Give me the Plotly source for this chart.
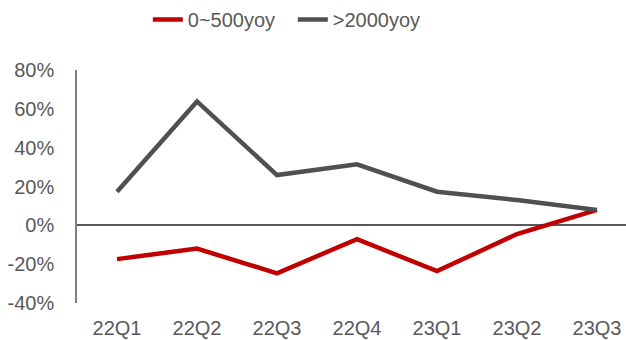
import plotly.graph_objects as go

categories = ["22Q1", "22Q2", "22Q3", "22Q4", "23Q1", "23Q2", "23Q3"]
low_yoy = [-17.4, -12.0, -24.7, -7.1, -23.6, -4.5, 8.0]
high_yoy = [17.3, 63.8, 25.9, 31.4, 17.3, 13.0, 7.9]
series_names = ["0~500yoy", ">2000yoy"]
y_ticks = [-40, -20, 0, 20, 40, 60, 80]
y_tick_labels = ["-40%", "-20%", "0%", "20%", "40%", "60%", "80%"]

fig = go.Figure()
fig.add_trace(go.Scatter(x=categories, y=low_yoy, name=series_names[0], mode="lines",
                         line=dict(color="#C00000", width=4.5)))
fig.add_trace(go.Scatter(x=categories, y=high_yoy, name=series_names[1], mode="lines",
                         line=dict(color="#505050", width=4.5)))

fig.update_layout(
    width=626, height=340,
    margin=dict(l=77, r=0, t=70, b=37),
    paper_bgcolor="white", plot_bgcolor="white",
    font=dict(family="Liberation Sans, Arial, sans-serif", size=20, color="#595959"),
    showlegend=True,
    legend=dict(orientation="h", x=0.129, xanchor="left", y=1.0, yanchor="top",
                yref="container", font=dict(size=20, color="#595959"),
                tracegroupgap=0, entrywidth=100),
)
fig.update_xaxes(
    type="category", range=[-0.5, 6.3625], showgrid=False, zeroline=False,
    showline=False, ticks="", ticklabelstandoff=11, automargin=False,
)
fig.update_yaxes(
    range=[-40, 80], tickmode="array", tickvals=y_ticks, ticktext=y_tick_labels,
    showgrid=False, automargin=False,
    zeroline=True, zerolinecolor="#595959", zerolinewidth=1.5,
    showline=True, linecolor="#7F7F7F", linewidth=1.5, ticks="",
    ticklabelstandoff=17,
)
fig.write_html("out.html")
